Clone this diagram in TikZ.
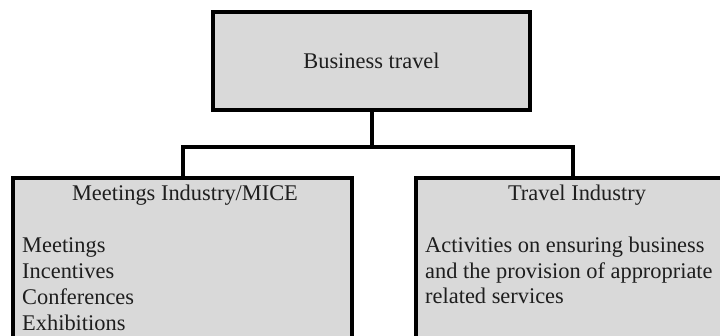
\documentclass[tikz,border=0pt]{standalone}
\usepackage{fontspec}
\setmainfont{Liberation Serif}
\usetikzlibrary{positioning}
\definecolor{boxgrey}{RGB}{217,217,217}
\definecolor{inkgrey}{RGB}{30,30,30}
\tikzset{
  greybox/.style={draw=black, line width=4pt, fill=boxgrey, inner sep=0pt, text=inkgrey, font=\fontsize{22.4}{25}\selectfont},
  boxtitle/.style={anchor=base, inner sep=0pt, text=inkgrey, font=\fontsize{22.4}{25}\selectfont},
  boxbody/.style={anchor=base west, align=left, inner sep=0pt, text=inkgrey, font=\fontsize{22.4}{25}\selectfont},
  link/.style={line width=4pt}
}

\begin{document}
\begin{tikzpicture}[x=1pt,y=-1pt]
    \useasboundingbox (0,0) rectangle (720,336);
    \clip (0,0) rectangle (720,336);

    \draw (371.5,61) node[greybox, minimum width=317pt, minimum height=98pt] (business) {Business travel};
      \draw (182.5,270) node[greybox, minimum width=339pt, minimum height=184pt] (mice) {};
   \draw (573,270) node[greybox, minimum width=314pt, minimum height=184pt] (industry) {};

     \coordinate (split) at (371.5,147);
     \draw[link] (business.south) -- (split);
     \draw[link] (mice.north) |- (split) -| (industry.north);

     \draw (185,201) node[boxtitle] (micetitle) {Meetings Industry/MICE};
     \draw (577,201) node[boxtitle] (industrytitle) {Travel Industry};
     \draw (22,253) node[boxbody] (micelist) {Meetings};
     \draw (micelist.base west) ++(0,26) node[boxbody] (incentives) {Incentives};
     \draw (incentives.base west) ++(0,26) node[boxbody] (conferences) {Conferences};
     \draw (conferences.base west) ++(0,26) node[boxbody] (exhibitions) {Exhibitions};
     \draw (425,253) node[boxbody] (activities) {Activities on ensuring business};
     \draw (activities.base west) ++(0,25.5) node[boxbody] (provision) {and the provision of appropriate};
     \draw (provision.base west) ++(0,25.5) node[boxbody] (related) {related services};

\end{tikzpicture}
\end{document}
